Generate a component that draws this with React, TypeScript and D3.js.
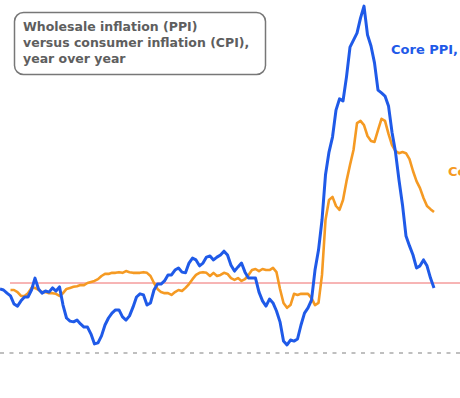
import { useMemo } from "react";
import * as d3 from "d3";

const width = 460;
const height = 398;

// monthly year-over-year % change
const corePpi = [
  1.83, 1.8, 1.71, 1.63, 1.4, 1.34, 1.49, 1.6, 1.6, 1.8,
  2.14, 1.83, 1.71, 1.77, 1.74, 1.86, 1.77, 1.89, 1.37, 1.0,
  0.91, 0.89, 0.94, 0.83, 0.74, 0.74, 0.54, 0.26, 0.29, 0.49,
  0.8, 1.0, 1.14, 1.23, 1.23, 1.03, 0.94, 1.06, 1.31, 1.6,
  1.69, 1.66, 1.37, 1.43, 1.8, 1.97, 1.97, 2.06, 2.23, 2.23,
  2.37, 2.43, 2.31, 2.29, 2.57, 2.71, 2.66, 2.49, 2.57, 2.74,
  2.77, 2.66, 2.74, 2.8, 2.91, 2.8, 2.51, 2.34, 2.46, 2.57,
  2.31, 2.14, 2.14, 2.14, 1.74, 1.49, 1.34, 1.54, 1.43, 1.2,
  0.89, 0.34, 0.23, 0.37, 0.34, 0.4, 0.8, 1.14, 1.29, 1.51,
  2.37, 2.94, 3.8, 5.09, 5.74, 6.17, 6.94, 7.26, 7.2, 7.89,
  8.74, 8.94, 9.14, 9.57, 9.91, 9.09, 8.77, 8.29, 7.51, 7.43,
  7.34, 7.06, 6.31, 5.74, 4.94, 4.23, 3.34, 3.06, 2.8, 2.43,
  2.49, 2.66, 2.49, 2.14, 1.86,
];

// core CPI starts 3 months later in the visible window
const coreCpiStart = 3;
const coreCpi = [
  1.8, 1.8, 1.74, 1.63, 1.63, 1.71, 1.86, 1.86, 1.8, 1.74,
  1.74, 1.71, 1.71, 1.69, 1.63, 1.71, 1.83, 1.86, 1.89, 1.91,
  1.94, 1.94, 2.0, 2.03, 2.06, 2.11, 2.2, 2.26, 2.26, 2.29,
  2.29, 2.31, 2.29, 2.34, 2.31, 2.29, 2.29, 2.29, 2.31, 2.29,
  2.2, 2.0, 1.83, 1.74, 1.71, 1.71, 1.66, 1.74, 1.8, 1.77,
  1.86, 1.97, 2.11, 2.23, 2.29, 2.31, 2.29, 2.2, 2.29, 2.2,
  2.23, 2.29, 2.26, 2.14, 2.09, 2.14, 2.06, 2.11, 2.23, 2.37,
  2.4, 2.34, 2.4, 2.37, 2.37, 2.43, 2.31, 1.83, 1.43, 1.29,
  1.37, 1.69, 1.66, 1.69, 1.69, 1.69, 1.57, 1.37, 1.43, 2.23,
  3.8, 4.37, 4.46, 4.2, 4.09, 4.37, 4.91, 5.37, 5.8, 6.57,
  6.63, 6.51, 6.2, 6.06, 6.03, 6.37, 6.69, 6.63, 6.26, 5.94,
  5.77, 5.71, 5.74, 5.71, 5.54, 5.2, 4.91, 4.71, 4.43, 4.2,
  4.11, 4.03,
];

const targetRate = 2; // red reference line
const baseline = 0; // dashed zero line

const titleLines = [
  "Wholesale inflation (PPI)",
  "versus consumer inflation (CPI),",
  "year over year",
];

const BLUE = "#1f5ae8";
const ORANGE = "#f59a23";

export default function App() {
  const x = useMemo(
    () => d3.scaleLinear().domain([0, corePpi.length - 1]).range([0, 434]),
    []
  );
  const y = useMemo(() => d3.scaleLinear().domain([0, 10]).range([353, 3]), []);

  const line = d3
    .line<[number, number]>()
    .x((d) => x(d[0]))
    .y((d) => y(d[1]));

  const ppiPath = line(corePpi.map((v, i) => [i, v]));
  const cpiPath = line(coreCpi.map((v, i) => [i + coreCpiStart, v]));

  return (
    <svg
      width={width}
      height={height}
      style={{ position: "absolute", left: 0, top: 0, background: "#fff" }}
      fontFamily="DejaVu Sans"
    >
      <line
        x1={0}
        x2={width}
        y1={y(baseline)}
        y2={y(baseline)}
        stroke="#aaa"
        strokeWidth={1.5}
        strokeDasharray="4 5.5"
      />
      <line
        x1={10}
        x2={width}
        y1={y(targetRate)}
        y2={y(targetRate)}
        stroke="#ef6a6a"
        strokeWidth={1}
      />
      <path d={cpiPath ?? ""} fill="none" stroke={ORANGE} strokeWidth={2.6} strokeLinejoin="round" />
      <path d={ppiPath ?? ""} fill="none" stroke={BLUE} strokeWidth={3} strokeLinejoin="round" />

      <rect x={14.5} y={12.5} width={251} height={62} rx={9} fill="#fff" stroke="#777" strokeWidth={1.5} />
      <text fill="#5e5e5e" fontWeight={700} fontSize={12.5}>
        {titleLines.map((t, i) => (
          <tspan key={i} x={23} y={31 + i * 16}>
            {t}
          </tspan>
        ))}
      </text>

      <text x={391} y={54} fill={BLUE} fontWeight={700} fontSize={13}>
        Core PPI, y/y
      </text>
      <text x={448} y={176} fill={ORANGE} fontWeight={700} fontSize={13}>
        Core CPI, y/y
      </text>
    </svg>
  );
}
